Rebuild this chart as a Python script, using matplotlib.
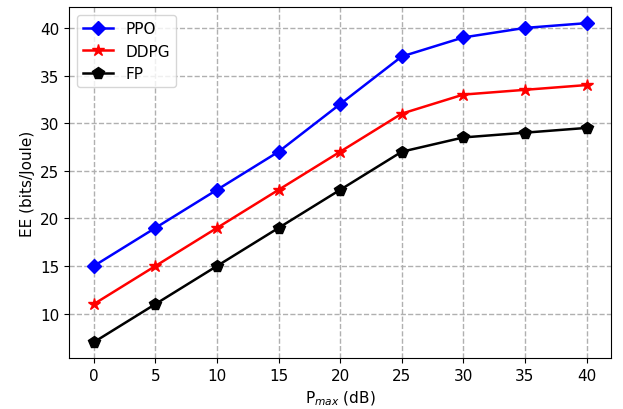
import matplotlib
matplotlib.use("Agg")
import matplotlib.pyplot as plt

p_max = [0, 5, 10, 15, 20, 25, 30, 35, 40]
ppo = [15, 19, 23, 27, 32, 37, 39, 40, 40.5]
ddpg = [11, 15, 19, 23, 27, 31, 33, 33.5, 34]
fp = [7, 11, 15, 19, 23, 27, 28.5, 29, 29.5]

fig, ax = plt.subplots(figsize=(6.23, 4.10), dpi=100)
ax.plot(p_max, ppo, color="blue", marker="D", markersize=7.5, linewidth=1.8, label="PPO")
ax.plot(p_max, ddpg, color="red", marker="*", markersize=9, linewidth=1.8, label="DDPG")
ax.plot(p_max, fp, color="black", marker="p", markersize=8.5, linewidth=1.8, label="FP")
ax.set_xticks(p_max)
ax.grid(True, linestyle="--", color="#b0b0b0", linewidth=1)
ax.set_xlabel(r"P$_{max}$ (dB)", fontsize=11)
ax.set_ylabel("EE (bits/Joule)", fontsize=11)
ax.tick_params(labelsize=11)
ax.legend(loc="upper left", fontsize=11)
fig.subplots_adjust(left=0.111, right=0.981, top=0.98, bottom=0.124)
fig.savefig("out.png", dpi=100)
